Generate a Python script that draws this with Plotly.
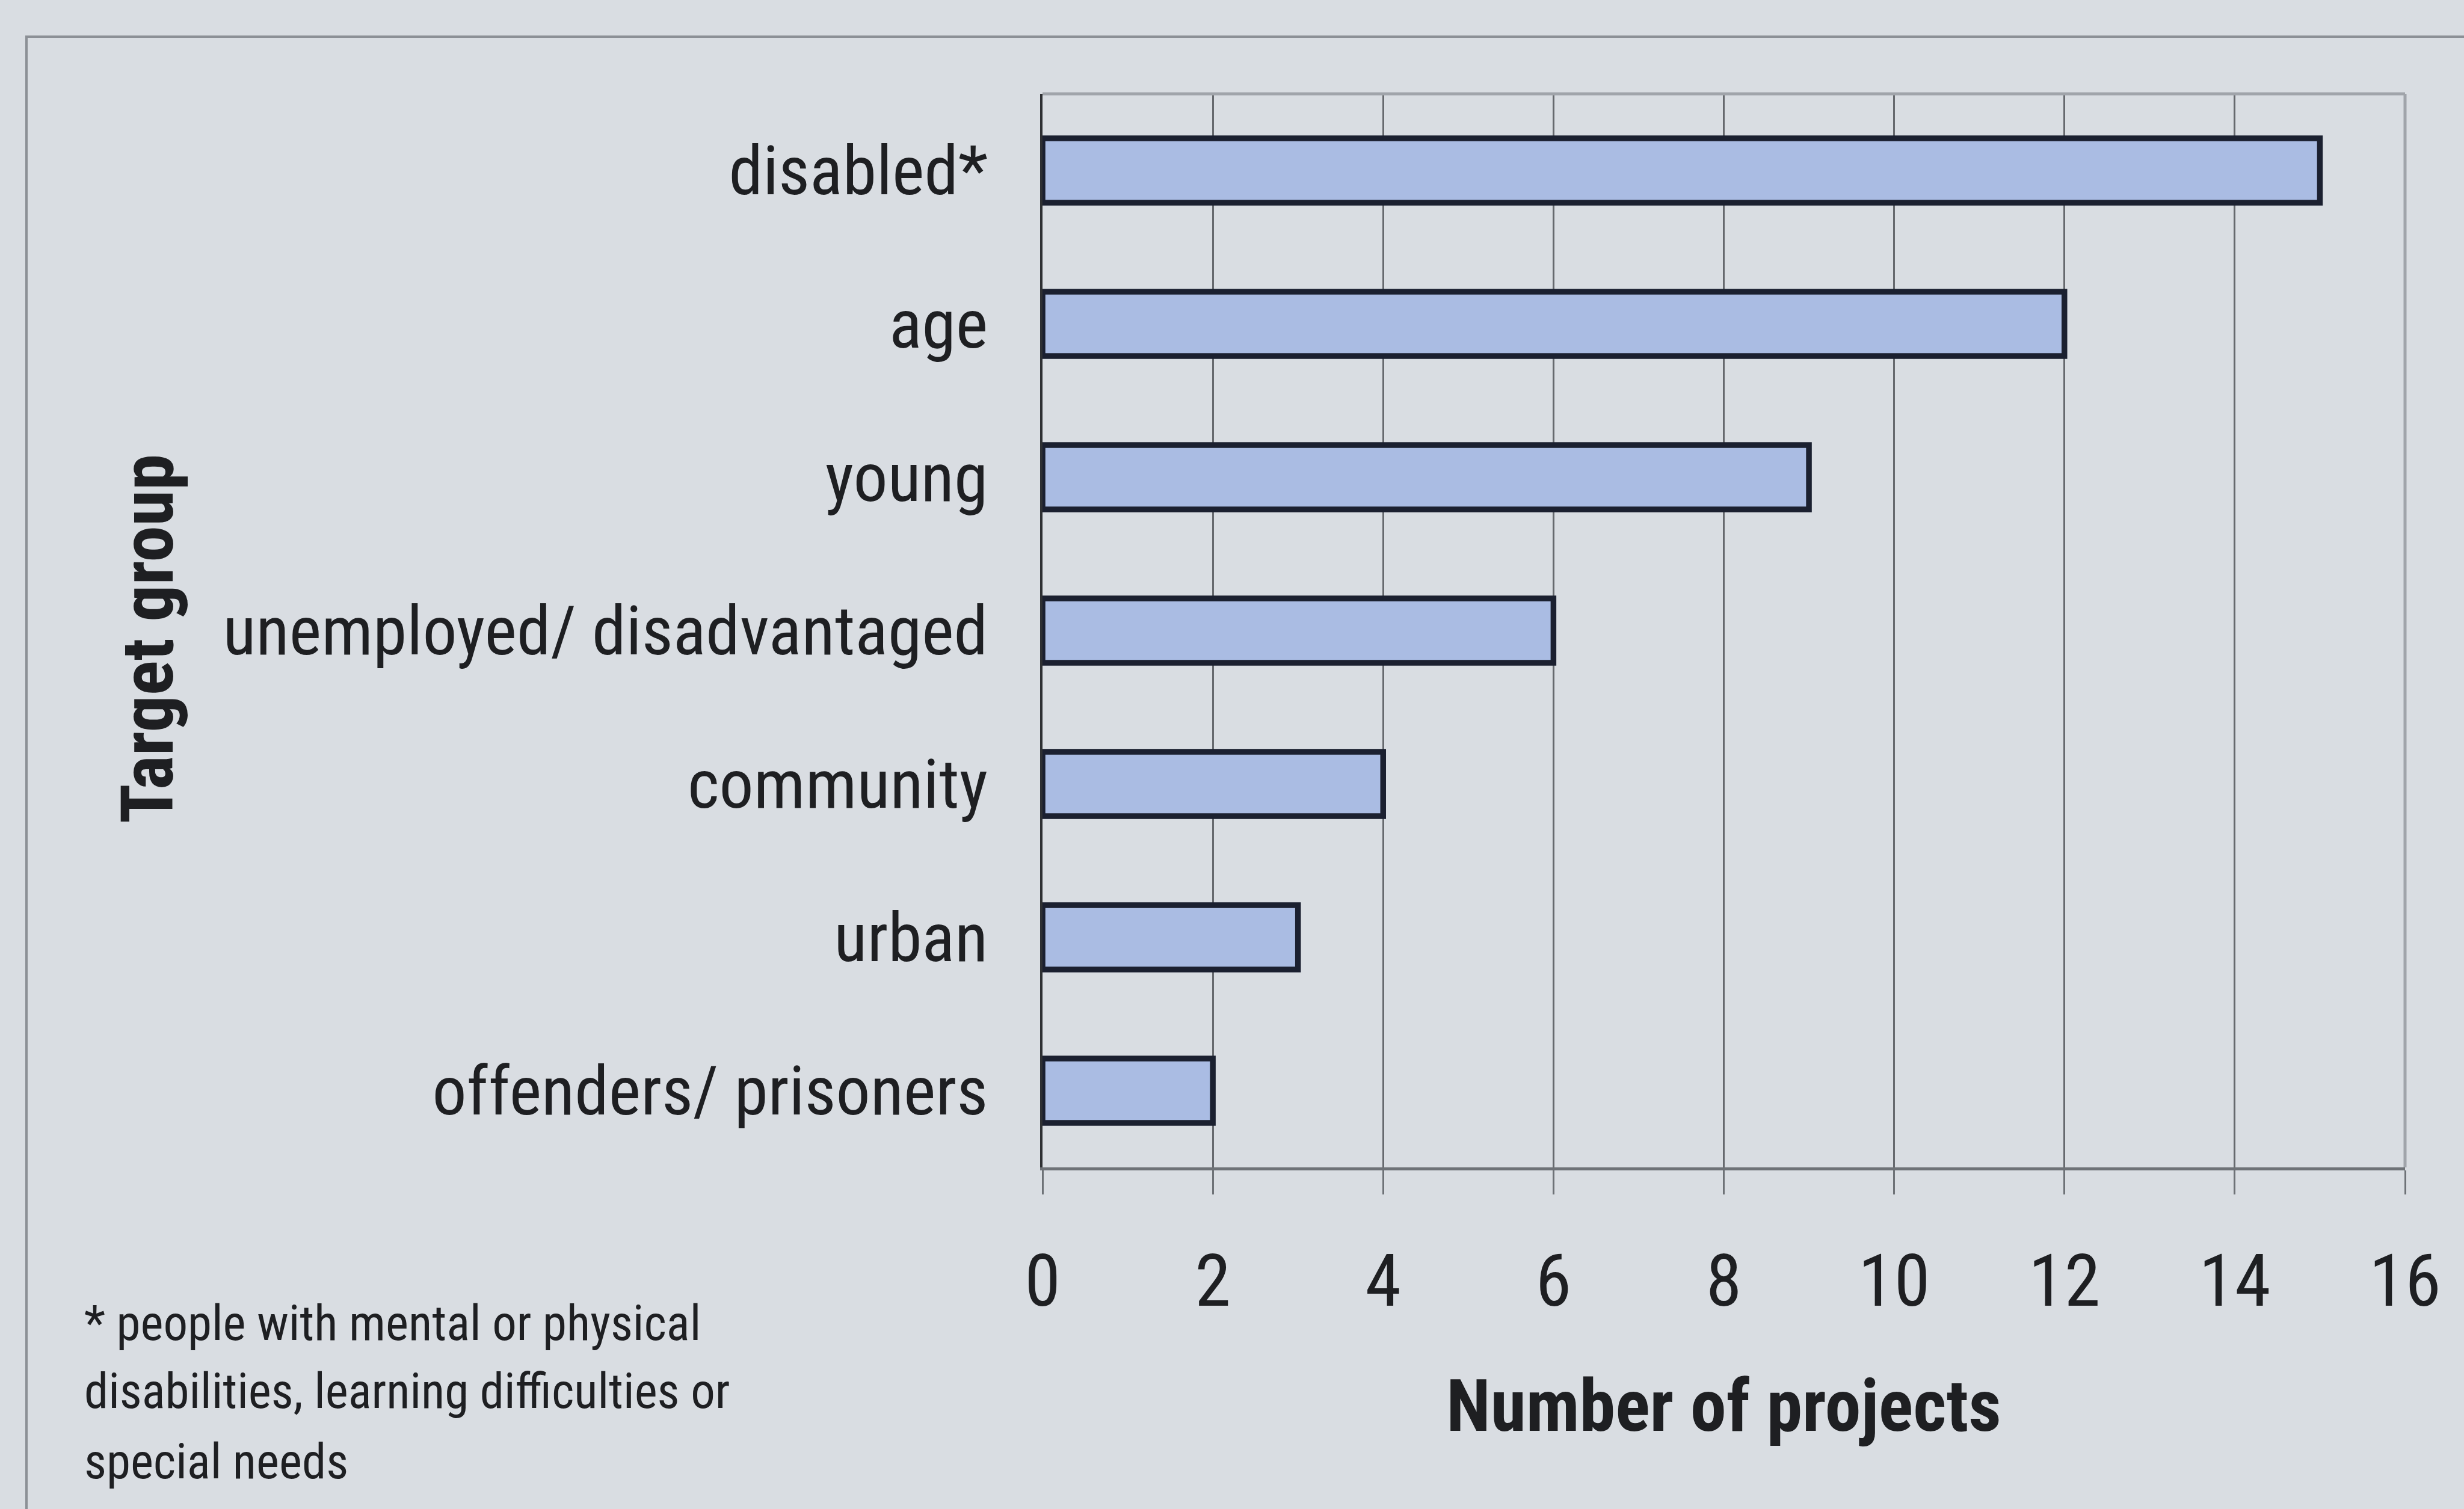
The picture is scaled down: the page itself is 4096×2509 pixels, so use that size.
import plotly.graph_objects as go

categories = ["disabled*", "age", "young", "unemployed/ disadvantaged",
              "community", "urban", "offenders/ prisoners"]
projects = [15, 12, 9, 6, 4, 3, 2]
x_ticks = [0, 2, 4, 6, 8, 10, 12, 14, 16]
x_title = "Number of projects"
y_title = "Target group"
footnote_lines = ["* people with mental or physical",
                  "disabilities, learning difficulties or",
                  "special needs"]

W, H = 4096, 2509
L, R, T, B = 1733, 98, 156, 568
FONT = "Roboto Condensed, Liberation Sans Narrow, Arial Narrow, sans-serif"
BG = "#d9dde2"
TXT = "#1e1f22"

pw = W - L - R
ph = H - T - B
def px(x):
    return (x - L) / pw
def py(y):
    return 1 - (y - T) / ph

fig = go.Figure()
fig.add_trace(go.Bar(
    x=projects, y=categories, orientation="h", width=0.42,
    marker=dict(color="#aabce3", line=dict(color="#1b2030", width=9.5)),
    showlegend=False,
))

foot_y = [2200, 2313, 2430]
annotations = [
    dict(text="<b>" + y_title + "</b>", xref="paper", yref="paper",
         x=px(246), y=py(1062), textangle=-90, showarrow=False,
         xanchor="center", yanchor="middle",
         font=dict(size=121, family=FONT, color=TXT)),
]
for line, yy in zip(footnote_lines, foot_y):
    annotations.append(dict(text=line, xref="paper", yref="paper",
                            x=px(138), y=py(yy), showarrow=False, align="left",
                            xanchor="left", yanchor="middle",
                            font=dict(size=81, family=FONT, color=TXT)))

fig.update_layout(
    width=W, height=H,
    margin=dict(l=L, r=R, t=T, b=B, pad=0),
    paper_bgcolor=BG, plot_bgcolor=BG,
    font=dict(family=FONT, color=TXT),
    xaxis=dict(
        range=[0, 16], tickvals=x_ticks, ticktext=[str(v) for v in x_ticks],
        showgrid=True, gridcolor="#66696e", gridwidth=2.5,
        showline=True, linecolor="#6e7277", linewidth=5,
        ticks="outside", ticklen=40, tickwidth=3, tickcolor="#6e7277",
        tickfont=dict(size=121, family=FONT, color=TXT),
        ticklabelstandoff=40,
        zeroline=False,
        title=dict(text="<b>" + x_title + "</b>", font=dict(size=120, family=FONT, color=TXT),
                   standoff=96),
    ),
    yaxis=dict(
        categoryorder="array", categoryarray=categories, autorange="reversed",
        showgrid=False, showline=True, linecolor="#2e3033", linewidth=4,
        ticks="", tickfont=dict(size=114, family=FONT, color=TXT),
        ticklabelstandoff=64,
    ),
    shapes=[
        dict(type="line", xref="paper", yref="paper", x0=0, x1=1, y0=1, y1=1,
             line=dict(color="#a0a4aa", width=5)),
        dict(type="line", xref="paper", yref="paper", x0=1, x1=1, y0=0, y1=1,
             line=dict(color="#a0a4aa", width=5)),
        dict(type="rect", xref="paper", yref="paper", x0=px(44), y0=py(61),
             x1=px(W + 50), y1=py(H + 50), line=dict(color="#8c9096", width=4),
             fillcolor="rgba(0,0,0,0)", layer="below"),
    ],
    annotations=annotations,
)

fig.write_html("out.html")
